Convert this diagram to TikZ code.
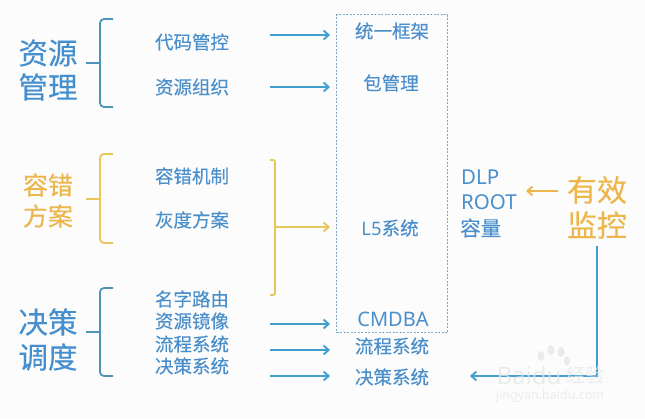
\documentclass[tikz,border=0pt]{standalone}
\usepackage{fontspec}
\usetikzlibrary{arrows.meta,calc}
\setmainfont{Noto Sans}
\newfontfamily\cjk[FakeBold=0.25]{Noto Sans CJK SC}
\newfontfamily\cjkplain{Noto Sans CJK SC}
\definecolor{txtblue}{HTML}{4A8FCB}
\definecolor{headblue}{HTML}{458FCF}
\definecolor{linkblue}{HTML}{3FA0D0}
\definecolor{bracket}{HTML}{4A95B8}
\definecolor{txtyellow}{HTML}{EDB64A}
\definecolor{linkyellow}{HTML}{E9C65C}
\definecolor{boxdash}{HTML}{78AAC4}
\definecolor{wmgray}{HTML}{E2E5E8}
\tikzset{
  x=1pt,y=-1pt,
  head/.style={font=\cjk\fontsize{29.5}{29.5}\selectfont,text=headblue,inner sep=0pt},
  headY/.style={font=\cjk\fontsize{25}{25}\selectfont,text=txtyellow,inner sep=0pt},
  watch/.style={font=\cjk\fontsize{30}{30}\selectfont,text=txtyellow,inner sep=0pt},
  item/.style={font=\cjk\fontsize{18.5}{18.5}\selectfont,text=txtblue,inner sep=0pt},
  latin/.style={font=\fontsize{20}{20}\selectfont,text=txtblue,inner sep=0pt},
  metric/.style={font=\fontsize{20.5}{20.5}\selectfont,text=txtblue,inner sep=0pt},
  metricC/.style={font=\cjk\fontsize{20.5}{20.5}\selectfont,text=txtblue,inner sep=0pt},
  brk/.style={draw=bracket,line width=1.8pt,rounded corners=4pt},
  brkY/.style={draw=linkyellow,line width=1.8pt,rounded corners=4pt},
  arr/.style={draw=linkblue,line width=1.9pt,-{Straight Barb[length=5pt,width=9pt]}},
  arrY/.style={draw=linkyellow,line width=1.9pt,-{Straight Barb[length=5pt,width=9pt]}},
  wm/.style={text=wmgray,inner sep=0pt},
}
\begin{document}
\begin{tikzpicture}
\useasboundingbox (0,0) rectangle (645,418);
\fill[white!99!black] (0,0) rectangle (645,418);
% box
\node[draw=boxdash,densely dashed,dash pattern=on 2pt off 1.5pt,line width=1pt,minimum width=111pt,minimum height=318pt,inner sep=0pt,anchor=north west] (frame) at (336,14) {};
% left heads
\node[head] (h1) at (48,53) {资源};
\node[head] (h2) at (48,87) {管理};
\node[headY] (h3) at (48,185) {容错};
\node[headY] (h4) at (48,216) {方案};
\node[head] (h5) at (48,322) {决策};
\node[head] (h6) at (48,357) {调度};
% brackets
\foreach \t/\m/\b/\s in {19/63/107/brk,154/199/243/brkY,288/332/376/brk}{
  \draw[\s] (113,\t) -- (100,\t) -- (100,\b) -- (113,\b);
  \draw[\s,rounded corners=0pt] (86,\m) -- (100,\m);
}
% items
\node[item] (i1) at (192,42) {代码管控};
\node[item] (i2) at (192,87) {资源组织};
\node[item] (i3) at (192,176) {容错机制};
\node[item] (i4) at (192,220) {灰度方案};
\node[item] (i5) at (192,299) {名字路由};
\node[item] (i6) at (192,321) {资源镜像};
\node[item] (i7) at (192,344) {流程系统};
\node[item] (i8) at (192,366) {决策系统};
% right column
\node[item] (r1) at (392,31) {统一框架};
\node[item] (r2) at (391,83) {包管理};
\node[item] (r3) at (390,228) {{\fontspec{Noto Sans}L5}系统};
\node[latin] (r4) at (393,319) {CMDBA};
\node[item] (r5) at (392,346) {流程系统};
\node[item] (r6) at (392,377) {决策系统};
% metrics
\node[metric,anchor=west] (m1) at (461,177) {DLP};
\node[metric,anchor=west] (m2) at (461,202) {ROOT};
\node[metricC,anchor=west] (m3) at (460,228) {容量};
\node[watch] (w1) at (597,190) {有效};
\node[watch] (w2) at (597,225) {监控};
% connector ends
\coordinate (s1) at (270,35);  \coordinate (e1) at (330,35);
\coordinate (s2) at (270,87);  \coordinate (e2) at (330,87);
\coordinate (s3) at (270,324); \coordinate (e3) at (330,324);
\coordinate (s4) at (270,350); \coordinate (e4) at (330,350);
\coordinate (s5) at (270,376); \coordinate (e5) at (330,376);
\coordinate (yt) at (270,160); \coordinate (yb) at (270,295);
\coordinate (yj) at (275,227); \coordinate (ye) at (330,227);
\coordinate (ws) at (558,191); \coordinate (we) at (526,191);
\coordinate (ms) at (597,246); \coordinate (mc) at (597,376); \coordinate (me) at (470,376);
\foreach \k in {1,...,5} \draw[arr] (s\k) -- (e\k);
\draw[brkY,rounded corners=2pt] (yt) -| (yj) |- (yb);
\draw[arrY] (yj) -- (ye);
\draw[arrY,draw=txtyellow] (ws) -- (we);
\draw[arr] (ms) -- (mc) -- (me);
% watermark, over the connector
\begin{scope}[opacity=.75]
\foreach \px/\py/\rx/\ry in {541/356/3.5/5,551/350/3.5/5,561/352/3.5/5,567/361/3/4.5}
  \fill[wmgray] (\px,\py) ellipse ({\rx} and {\ry});
\node[wm,font=\bfseries\fontsize{24}{24}\selectfont,anchor=base] (wmA) at (529,384) {Baidu};
\node[wm,font=\cjkplain\fontsize{19}{19}\selectfont] (wmB) at (585,375) {经验};
\node[wm,font=\fontsize{12.5}{12.5}\selectfont,anchor=base,text height=7pt] (wmC) at (550,399) {jingyan.baidu.com};
\end{scope}
\end{tikzpicture}
\end{document}
